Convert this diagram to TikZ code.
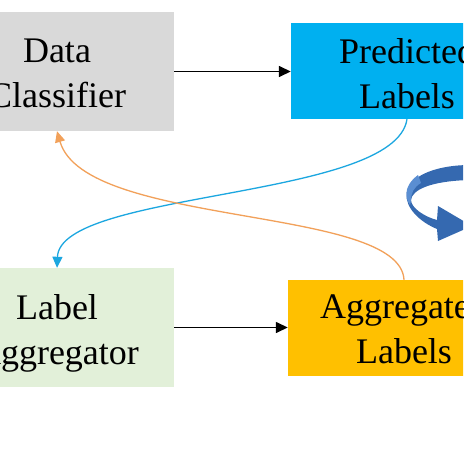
\documentclass[tikz,border=0pt]{standalone}
\usepackage{fontspec}
\setmainfont{Liberation Serif}
\usetikzlibrary{arrows.meta}
\definecolor{boxgray}{HTML}{D9D9D9}
\definecolor{boxblue}{HTML}{00B0F0}
\definecolor{boxgreen}{HTML}{E2F0D9}
\definecolor{boxorange}{HTML}{FFC000}
\definecolor{curveblue}{HTML}{1CA7E0}
\definecolor{curveorange}{HTML}{F2A15A}
\definecolor{ribbon}{HTML}{3569B0}
\definecolor{ribbonlight}{HTML}{5A8ED2}
\tikzset{
  box/.style={draw=none, rectangle, inner sep=0pt},
  txt/.style={align=center, inner sep=0pt, font=\fontsize{36}{45}\selectfont},
  flow/.style={line width=1.5pt, -{Triangle[length=12pt,width=11pt]}},
  bluecurve/.style={draw=curveblue, line width=1.3pt, -{Triangle[length=11pt,width=10pt]}},
  orangecurve/.style={draw=curveorange, line width=1.3pt, -{Triangle[length=11pt,width=10pt]}}
}
\begin{document}
\begin{tikzpicture}[x=1pt,y=-1pt]
\useasboundingbox (0,0) rectangle (463,463);
\clip (0,0) rectangle (463,463);
\fill[white] (0,0) rectangle (463,463);
% boxes
\node[box, fill=boxgray, minimum width=234pt, minimum height=119pt] (dc) at (57,71.5) {};
\node[box, fill=boxblue, minimum width=232pt, minimum height=96pt] (pl) at (407,71) {};
\node[box, fill=boxgreen, minimum width=234pt, minimum height=119pt] (la) at (57,327.5) {};
\node[box, fill=boxorange, minimum width=232pt, minimum height=96pt] (al) at (404,328) {};
% texts
\node[txt] (dct) at (57,73.3) {Data\\Classifier};
\node[txt] (plt) at (407,73.3) {Predicted\\Labels};
\node[txt] (lat) at (57,333.6) {Label\\Aggregator};
\node[txt] (alt) at (404,328.7) {Aggregated\\Labels};
% straight arrows
\draw[flow] (dc.east) -- (dc.east -| pl.west);
\draw[flow] (la.east) -- (la.east -| al.west);
% curves
\draw[bluecurve] (pl.south) .. controls (395,200) and (60,190) .. (la.north);
\draw[orangecurve] (al.north) .. controls (400,205) and (85,228) .. (dc.south);
% circular ribbon arrow
\fill[ribbon] (470,165) .. controls (440,165) and (410,174) .. (406.5,193)
  .. controls (405,208) and (420,222) .. (437,229) -- (438,241) -- (472,226) -- (438,206) -- (437,220)
  .. controls (425,217) and (411,208) .. (411,200)
  .. controls (412,190) and (430,181) .. (470,180) -- cycle;
\fill[ribbonlight] (418,175) .. controls (410,181) and (406,188) .. (406.5,195)
  .. controls (407,200) and (408,203) .. (410,205) -- (411,200)
  .. controls (411,193) and (414,187) .. (421,183) -- cycle;
\end{tikzpicture}
\end{document}
